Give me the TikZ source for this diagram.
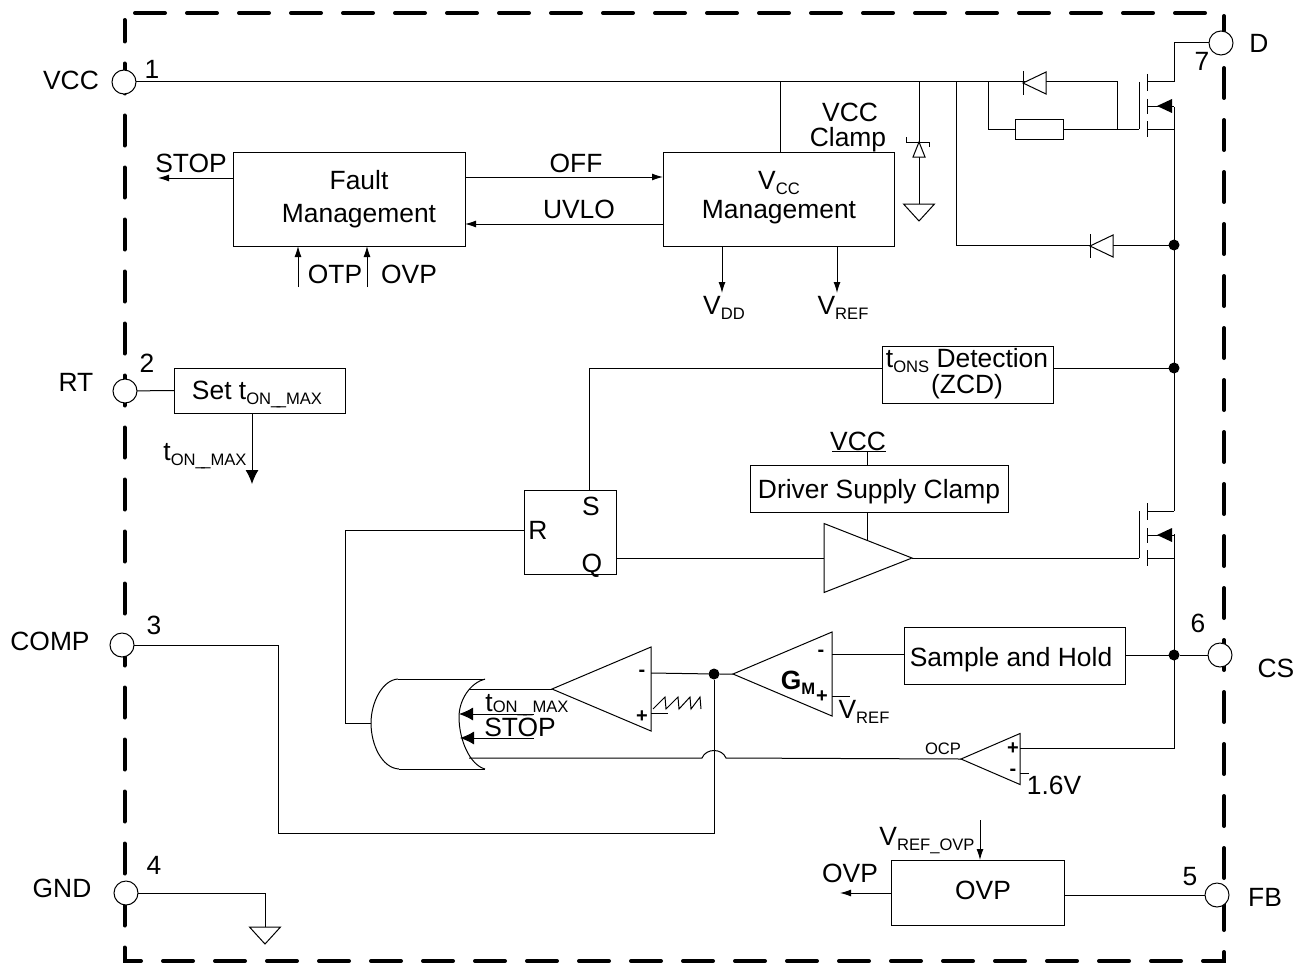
\documentclass[tikz,border=0pt]{standalone}
\usepackage{fontspec}
\setmainfont{Liberation Sans}
\usetikzlibrary{arrows.meta,shapes.geometric}
\newcommand{\lowsub}[1]{\raisebox{-2.5pt}{\fontsize{8.3}{10}\selectfont #1}}
\newcommand{\tonmax}{t\lowsub{ON\_\kern-1.8pt\_MAX}}
\tikzset{
  every node/.append style={font=\fontsize{13.2}{16}\selectfont},
  lbl/.style={inner sep=0pt,outer sep=0pt,anchor=base},
  sign/.style={inner sep=0pt,outer sep=0pt,font=\fontsize{10}{11}\bfseries\selectfont},
  box/.style={draw,inner sep=0pt,outer sep=0pt,line width=.5pt},
  pin/.style={draw,circle,fill=white,minimum size=12pt,inner sep=0pt,outer sep=0pt,line width=.5pt},
  dot/.style={circle,fill=black,minimum size=5.5pt,inner sep=0pt,outer sep=0pt},
  amp/.style={draw,isosceles triangle,isosceles triangle stretches,inner sep=0pt,outer sep=0pt,line width=.5pt,anchor=apex},
  smalltip/.style={-{Latex[length=5.5pt,width=3.5pt]}},
  bigtip/.style={-{Latex[length=7pt,width=6.5pt]}},
  diodeleft/.pic={
    \draw[fill=white] (0,0) -- (23,-11) -- (23,11) -- cycle;
    \draw (0,-12) -- (0,12);
  },
  grnd/.pic={
    \draw[fill=white] (-15.5,0) -- (15.5,0) -- (0,17) -- cycle;
  },
  mosfet/.pic={
    \draw (-8,-24) -- (-8,23);
    \draw (0,-32) -- (0,-15);
    \draw (0,-7) -- (0,8);
    \draw (0,15) -- (0,31);
    \draw (0,-24) -- (27,-24);
    \draw (0,0) -- (27,0);
    \draw (0,23) -- (27,23);
    \fill (10,0) -- (25,-7) -- (25,7) -- cycle;
  },
}
\begin{document}
\begin{tikzpicture}[x=.5pt,y=-.5pt,line width=.5pt]
\useasboundingbox (0,0) rectangle (1304,963);
% package outline
\draw[line width=2pt,line cap=round,dash pattern=on 15pt off 11pt] (135,13) -- (1224,13) -- (1224,961) -- (124.5,961) -- (124.5,20) ;
% pins
\node[pin] (vccp) at (124,82) {};
\node[pin] (dp) at (1221,43) {};
\node[pin] (rtp) at (125,391) {};
\node[pin] (compp) at (122,645) {};
\node[pin] (gndp) at (126,893) {};
\node[pin] (csp) at (1220,655) {};
\node[pin] (fbp) at (1217,895) {};
\node[lbl] (vccl) at (71,90) {VCC};
\node[lbl] (pin1) at (152,79) {1};
\node[lbl] (dl) at (1259,53) {D};
\node[lbl] (pin7) at (1202,71) {7};
\node[lbl] (rtl) at (76,391) {RT};
\node[lbl] (pin2) at (147,372) {2};
\node[lbl] (compl) at (50,650) {COMP};
\node[lbl] (pin3) at (154,634) {3};
\node[lbl] (gndl) at (62,897) {GND};
\node[lbl] (pin4) at (154,874) {4};
\node[lbl] (csl) at (1276,677) {CS};
\node[lbl] (pin6) at (1198,632) {6};
\node[lbl] (fbl) at (1265,906) {FB};
\node[lbl] (pin5) at (1190,885) {5};
% blocks
\node[box,minimum width=116pt,minimum height=47pt] (fault) at (349,199) {};
\node[lbl] (fault1) at (359,189) {Fault};
\node[lbl] (fault2) at (359,222) {Management};
\node[box,minimum width=115.5pt,minimum height=47pt] (vccm) at (778.5,199) {};
\node[lbl] (vccm1) at (779,189) {V\lowsub{CC}};
\node[lbl] (vccm2) at (779,218) {Management};
\node[box,minimum width=85.5pt,minimum height=22.5pt] (settmax) at (259.5,390.5) {};
\node[lbl] (settext) at (257,399) {Set \tonmax};
\node[box,minimum width=85.5pt,minimum height=28.5pt] (tons) at (967.5,374.5) {};
\node[lbl] (tons1) at (967,367) {t\lowsub{ONS} Detection};
\node[lbl] (tons2) at (967,393) {(ZCD)};
\node[box,minimum width=129pt,minimum height=23.5pt] (clamp) at (879,488.5) {};
\node[lbl] (clamptext) at (879,498) {Driver Supply Clamp};
\node[box,minimum width=46pt,minimum height=42pt] (srff) at (570,532) {};
\node[lbl] (sset) at (591,515) {S};
\node[lbl] (rset) at (538,539) {R};
\node[lbl] (qout) at (592,572) {Q};
\node[box,minimum width=110.5pt,minimum height=28.5pt] (sample) at (1014.5,655.5) {};
\node[lbl] (sampletext) at (1011,666) {Sample and Hold};
\node[box,minimum width=86.5pt,minimum height=32.5pt] (ovpbox) at (977.5,892.5) {};
\node[lbl] (ovptext) at (983,899) {OVP};
\node[box,minimum width=24pt,minimum height=10pt] (res) at (1039,129) {};
% amplifiers
\node[amp,shape border rotate=180,minimum height=49.5pt,minimum width=42pt] (cmp) at (552,689) {};
\node[amp,shape border rotate=180,minimum height=49.5pt,minimum width=42pt] (gm) at (733,674) {};
\node[amp,shape border rotate=180,minimum height=29.5pt,minimum width=25.5pt] (ocp) at (961,759) {};
\node[amp,minimum height=44pt,minimum width=34.5pt] (buf) at (912,558) {};
\node[sign] (cmpm) at (642,673) {-};
\node[sign] (cmpp) at (642,717) {+};
\node[sign] (gmm) at (821,653) {-};
\node[sign] (gmp) at (822,697) {+};
\node[sign] (ocpp) at (1013,749) {+};
\node[sign] (ocpm) at (1013,772) {-};
\node[lbl] (gmtext) at (798,689) {\bfseries G\lowsub{\bfseries M}};
% junctions
\node[dot] (dn1) at (1174,245) {};
\node[dot] (dn2) at (1174,368) {};
\node[dot] (dn3) at (1174,655) {};
\node[dot] (dn4) at (714,674) {};
\coordinate (vccend) at (1117,82);
\coordinate (resjoin) at (1117,129);
\coordinate (gate1) at (1139,129);
\coordinate (tapv) at (780,82);
\coordinate (tapz) at (919,82);
\coordinate (tapd) at (956,82);
\coordinate (tapr) at (988,82);
\coordinate (gndz) at (919,204);
\coordinate (drain1) at (1174,82);
\coordinate (src1) at (1174,107);
\coordinate (drain2) at (1174,511);
\coordinate (src2) at (1174,534);
\coordinate (ocpin) at (1174,748);
\coordinate (ocpplus) at (1020,748);
\coordinate (ocpminus) at (1020,773);
\coordinate (ocpminusend) at (1029,773);
\coordinate (gate2) at (1139,558);
\coordinate (sline) at (589,490);
\coordinate (rline) at (524,530);
\coordinate (qline) at (616,558);
\coordinate (bufin) at (824,558);
\coordinate (bufsup) at (867,540);
\coordinate (vccbar1) at (832,451);
\coordinate (vccbar2) at (886,451);
\coordinate (vccbarm) at (867,451);
\coordinate (orout) at (371,723);
\coordinate (orbend) at (345,723);
\coordinate (orin1) at (469,689);
\coordinate (orin2) at (534,714);
\coordinate (orin2e) at (459,714);
\coordinate (orin3) at (534,738);
\coordinate (orin3e) at (460,738);
\coordinate (orin4) at (469,758);
\coordinate (hop1) at (702,758);
\coordinate (hop2) at (726,758);
\coordinate (cmpminus) at (651,673);
\coordinate (cmpplus) at (651,713);
\coordinate (cmpplusend) at (668,713);
\coordinate (gmminus) at (832,654);
\coordinate (gmplus) at (832,696);
\coordinate (gmplusend) at (850,696);
\coordinate (compbend) at (278,833);
\coordinate (gndbend) at (265,893);
\coordinate (gndt) at (265,927);
% supply rail and high side switch
\draw (vccp) -- (vccend) -- (resjoin);
\draw (tapv) -- (tapv |- vccm.north);
\draw (tapz) -- (gndz);
\draw (tapd) |- (dn1);
\draw (tapr) |- (res.west);
\draw (res.east) -- (gate1);
\draw (drain1) |- (dp);
\draw (src1) -- (drain2);
\draw (src2) -- (ocpin) -- (ocpplus);
\draw (ocpminus) -- (ocpminusend);
\draw (dn3) -- (csp);
\draw (sample.east |- dn3) -- (dn3);
\draw (tons.east |- dn2) -- (dn2);
\draw (sline) |- (tons.west |- dn2);
\pic at (1023,83) {diodeleft};
\pic at (1090,246) {diodeleft};
\pic at (1147,106) {mosfet};
\pic at (1147,535) {mosfet};
\pic at (gndz) {grnd};
% zener
\draw[fill=white] (919,142) -- (925,157) -- (913,157) -- cycle;
\draw (906,137) -- (906,142) -- (929,142) -- (929,147);
% fault and vcc block connections
\draw[smalltip] (fault.west |- 0,178) -- (158,178);
\draw[smalltip] (fault.east |- 0,177) -- (vccm.west |- 0,177);
\draw[smalltip] (vccm.west |- 0,224) -- (fault.east |- 0,224);
\coordinate (otp) at (298,287);
\coordinate (ovpin) at (367,287);
\coordinate (vddo) at (722,293);
\coordinate (vrefo) at (837,293);
\draw[smalltip] (otp) -- (otp |- fault.south);
\draw[smalltip] (ovpin) -- (ovpin |- fault.south);
\draw[smalltip] (vddo |- vccm.south) -- (vddo);
\draw[smalltip] (vrefo |- vccm.south) -- (vrefo);
\node[lbl] (stopl) at (191,172) {STOP};
\node[lbl] (offl) at (576,172) {OFF};
\node[lbl] (uvlol) at (579,218) {UVLO};
\node[lbl] (otpl) at (335,283) {OTP};
\node[lbl] (ovpl) at (409,283) {OVP};
\node[lbl] (vddl) at (724,314) {V\lowsub{DD}};
\node[lbl] (vrefl) at (843,314) {V\lowsub{REF}};
\node[lbl] (vcc2) at (850,121) {VCC};
\node[lbl] (clampl) at (848,146) {Clamp};
% tON_MAX
\coordinate (tmaxend) at (252,484);
\draw (rtp) -- (settmax.west);
\draw[bigtip] (tmaxend |- settmax.south) -- (tmaxend);
\node[lbl] (tmaxl) at (205,460) {\tonmax};
% driver path
\draw (qline) -- (bufin);
\draw (buf.apex) -- (gate2);
\draw (clamp.south -| bufsup) -- (bufsup);
\draw (vccbar1) -- (vccbar2);
\draw (vccbarm) -- (clamp.north -| vccbarm);
\node[lbl] (vcc3) at (858,450) {VCC};
% reset logic
\draw (orout) -- (orbend) |- (rline);
\draw (orin1) -- (cmp.apex);
\draw[bigtip] (orin2) -- (orin2e);
\draw[bigtip] (orin3) -- (orin3e);
\draw (orin4) -- (hop1) .. controls (706,748) and (722,748) .. (hop2) -- (ocp.apex);
\draw (cmpminus) -- (dn4) -- (gm.apex);
\draw (cmpplus) -- (cmpplusend);
\draw (653,709) -- (665,697) -- (666,709) -- (678,697) -- (679,709) -- (690,697) -- (691,709) -- (700,697) -- (701,709);
\draw (dn4) |- (compbend) |- (compp);
\draw (398,679) -- (485,679);
\draw (399,769) -- (485,769);
\draw (398,679) .. controls (382,680) and (371,703) .. (371,723) .. controls (371,745) and (382,768) .. (399,769);
\draw (485,679) .. controls (470,683) and (459,700) .. (459,717) .. controls (459,740) and (470,765) .. (485,769);
\node[lbl] (tmaxl2) at (527,711) {t\raisebox{-.5pt}{\fontsize{8.3}{10}\selectfont ON\_\kern-1.8pt\_MAX}};
\node[lbl] (stopl2) at (520,736) {STOP};
% sample path
\draw (sample.west |- gmminus) -- (gmminus);
\draw (gmplus) -- (gmplusend);
\node[lbl] (vrefl2) at (864,718) {V\lowsub{REF}};
\node[lbl,font=\fontsize{8.3}{10}\selectfont] (ocpl) at (943,754) {OCP};
\node[lbl] (v16) at (1054,794) {1.6V};
% gnd and ovp
\draw (gndp) -- (gndbend) -- (gndt);
\pic at (gndt) {grnd};
\coordinate (vrefovp) at (980,820);
\coordinate (ovpout) at (840,893);
\draw (ovpbox.east |- fbp) -- (fbp);
\draw[smalltip] (ovpbox.west |- ovpout) -- (ovpout);
\draw[smalltip] (vrefovp) -- (vrefovp |- ovpbox.north);
\node[lbl] (ovpl2) at (850,882) {OVP};
\node[lbl] (vrefovpl) at (927,845) {V\lowsub{REF\_OVP}};
\end{tikzpicture}
\end{document}
